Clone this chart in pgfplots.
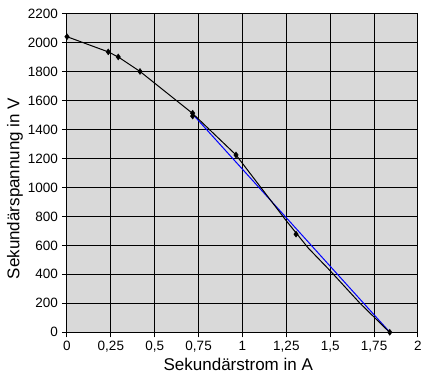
\documentclass[border=0pt]{standalone}
\usepackage{fontspec}
\setmainfont{Liberation Sans}
\usepackage{pgfplots}
\pgfplotsset{compat=1.18}
\definecolor{plotbg}{RGB}{217,217,217}
\begin{document}
\begin{tikzpicture}
\useasboundingbox (-67pt,-47.7pt) rectangle (357pt,332.3pt);
\begin{axis}[
  scale only axis,
  width=351pt, height=318.8pt,
  at={(0,0)}, anchor=south west,
  xmin=0, xmax=2, ymin=0, ymax=2200,
  xtick={0,0.25,0.5,0.75,1,1.25,1.5,1.75,2},
  xticklabels={0,{0,25},{0,5},{0,75},1,{1,25},{1,5},{1,75},2},
  ytick={0,200,...,2200},
  /pgf/number format/1000 sep={},
  /pgf/number format/assume math mode=true,
  tick align=outside,
  major tick length=5pt,
  tick style={black, line width=1pt},
  xtick pos=bottom, ytick pos=left,
  grid=major,
  major grid style={black, line width=1pt},
  axis line style={black, line width=1pt},
  axis background/.style={fill=plotbg},
  ticklabel style={font=\fontsize{13.5}{16}\selectfont},
  xticklabel style={inner sep=0pt, yshift=-4pt},
  yticklabel style={inner sep=0pt, xshift=-4pt},
  every axis x label/.style={at={(axis description cs:0.488,-0.121)}, anchor=base},
  every axis y label/.style={at={(axis description cs:-0.148,0.451)}, anchor=center, rotate=90},
  xlabel={\fontsize{17}{20}\selectfont Sekundärstrom in A},
  ylabel={\fontsize{17}{20}\selectfont Sekundärspannung in V},
  clip=false,
]
% blue straight line
\addplot[blue, line width=1pt, no marks] coordinates {(0.72,1500) (1.84,0)};
% black connecting line
\addplot[black, line width=1pt, no marks] coordinates {
(0,2040) (0.235,1935) (0.292,1900) (0.416,1800) (0.716,1510) (0.963,1224)
(1.248,772) (1.375,581) (1.5,424) (1.669,201) (1.838,0)};
% measured points
\addplot[only marks, mark=diamond*, mark size=3pt, black] coordinates {
(0,2040) (0.235,1935) (0.292,1900) (0.416,1800) (0.716,1512) (0.716,1492)
(0.963,1224) (1.305,677) (1.839,0)};
\end{axis}
\end{tikzpicture}
\end{document}
